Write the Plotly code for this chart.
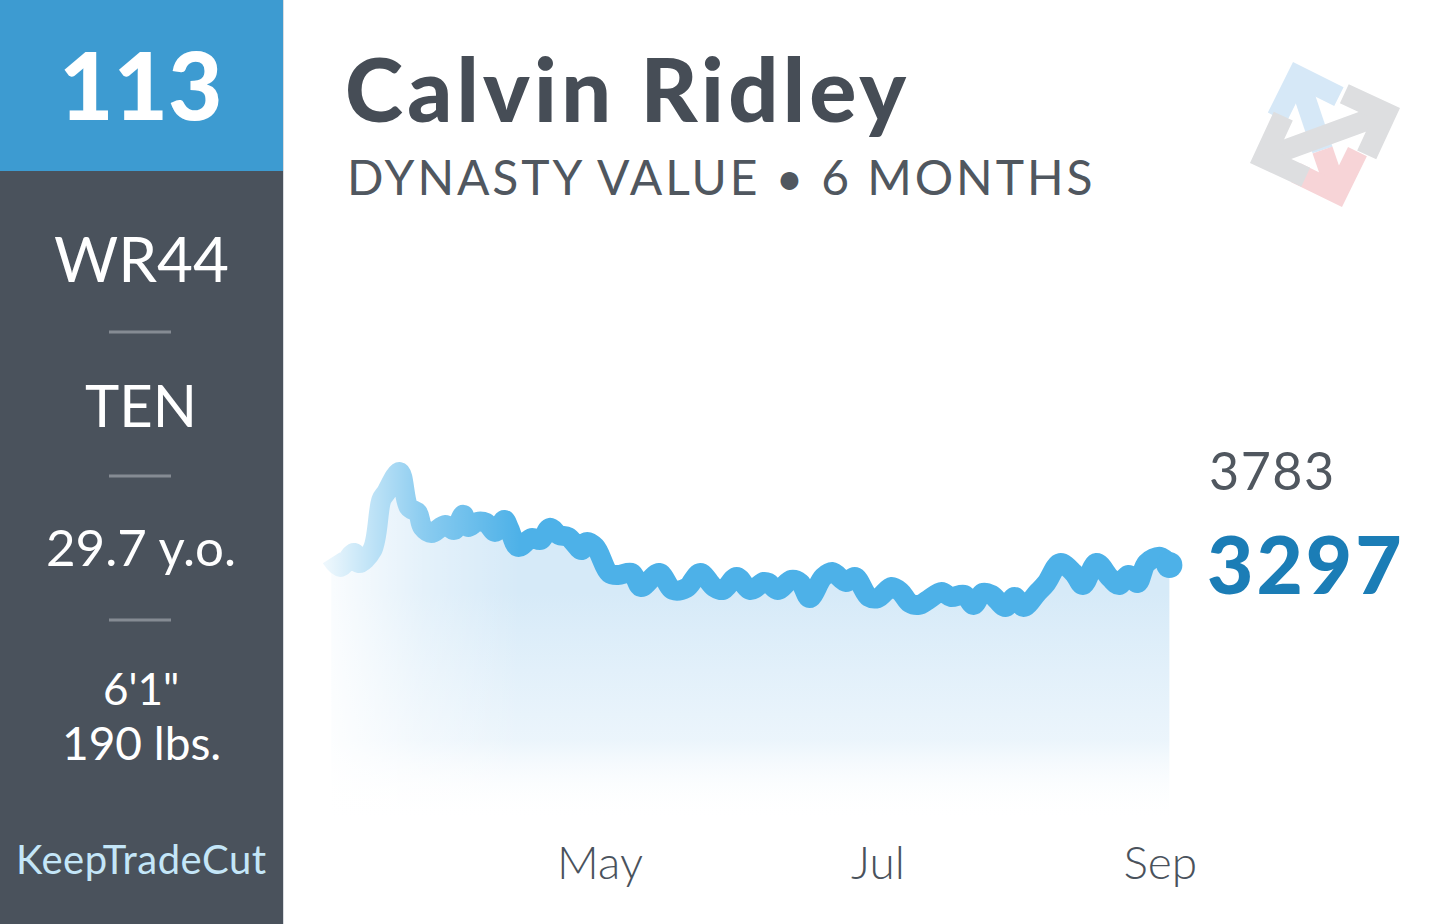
import math
import pandas as pd
import plotly.graph_objects as go

# ---------------- data ----------------
dates = ["2024-03-03","2024-03-05","2024-03-08","2024-03-09","2024-03-12","2024-03-14","2024-03-15",
         "2024-03-18","2024-03-20","2024-03-22","2024-03-23","2024-03-25","2024-03-28","2024-03-30",
         "2024-04-01","2024-04-02","2024-04-04","2024-04-06","2024-04-08","2024-04-10","2024-04-11",
         "2024-04-13","2024-04-16","2024-04-18","2024-04-20","2024-04-22","2024-04-24","2024-04-27",
         "2024-04-28","2024-04-30","2024-05-03","2024-05-05","2024-05-08","2024-05-10","2024-05-14",
         "2024-05-17","2024-05-20","2024-05-23","2024-05-26","2024-05-28","2024-05-31","2024-06-03",
         "2024-06-06","2024-06-07","2024-06-09","2024-06-12","2024-06-14","2024-06-16","2024-06-19",
         "2024-06-21","2024-06-24","2024-06-26","2024-06-29","2024-07-01","2024-07-04","2024-07-06",
         "2024-07-08","2024-07-10","2024-07-12","2024-07-15","2024-07-17","2024-07-20","2024-07-22",
         "2024-07-24","2024-07-26","2024-07-29","2024-07-31","2024-08-02","2024-08-05","2024-08-07",
         "2024-08-10","2024-08-13","2024-08-15","2024-08-18","2024-08-21","2024-08-23","2024-08-25",
         "2024-08-27","2024-08-29","2024-09-01","2024-09-03"]
values = [3334,3287,3360,3307,3375,3637,3674,3783,3600,3569,
          3496,3464,3506,3480,3559,3496,3522,3517,3470,3532,
          3491,3391,3438,3428,3491,3454,3443,3375,3417,3391,
          3255,3245,3255,3182,3255,3166,3177,3255,3182,3166,
          3234,3166,3208,3203,3166,3219,3203,3124,3234,3260,
          3208,3234,3130,3124,3182,3156,3098,3088,3114,3156,
          3130,3140,3088,3151,3140,3077,3130,3077,3151,3203,
          3307,3255,3192,3307,3229,3192,3245,3203,3307,3339,3297]
tick_dates = ["2024-05-01", "2024-07-01", "2024-09-01"]
tick_labels = ["May", "Jul", "Sep"]

overall_rank = "113"
position_rank = "WR44"
team = "TEN"
age = "29.7 y.o."
height = "6'1\""
weight = "190 lbs."
brand = "KeepTradeCut"
player = "Calvin Ridley"
subtitle = "DYNASTY VALUE • 6 MONTHS"
peak_value = max(values)
current_value = values[-1]

# ---------------- layout geometry ----------------
W, H = 1456, 924
PL, PR, PT, PB = 320, 1200, 420, 822
x_range = ["2024-02-29 12:40", "2024-09-09 17:17"]
y_range = [1953, 4055]

def px(x):
    return (x - PL) / (PR - PL)

def py(y):
    return (PB - y) / (PB - PT)

t_lo = pd.Timestamp(x_range[0])
t_hi = pd.Timestamp(x_range[1])

def pix_to_date(x):
    return t_lo + (t_hi - t_lo) * ((x - PL) / (PR - PL))

def pix_to_ms(x):
    return pix_to_date(x).value / 1e6

LINE_COLOR = "#4DB1E8"
DARK = "#4A525C"
FONT = "Lato"
HEAVY = "Lato Black, Lato"

fig = go.Figure()

# main area + line
fig.add_trace(go.Scatter(
    x=dates, y=values, mode="lines",
    line=dict(color=LINE_COLOR, width=20, shape="spline", smoothing=1.0),
    fill="tozeroy",
    fillgradient=dict(type="vertical", start=1960, stop=3150,
                      colorscale=[[0, "rgba(255,255,255,0)"], [0.35, "rgba(232,243,251,0.85)"],
                                  [1, "rgba(214,234,248,1)"]]),
    hoverinfo="skip",
))
# current value dot
fig.add_trace(go.Scatter(
    x=[dates[-1]], y=[current_value], mode="markers",
    marker=dict(color=LINE_COLOR, size=26), hoverinfo="skip",
))
# left-side white fade overlay
fig.add_trace(go.Scatter(
    x=[pix_to_date(318), pix_to_date(560)], y=[y_range[1], y_range[1]],
    mode="lines", line=dict(width=0), fill="tozeroy",
    fillgradient=dict(type="horizontal", start=pix_to_ms(326), stop=pix_to_ms(520),
                      colorscale=[[0, "rgba(255,255,255,0.9)"], [0.5, "rgba(255,255,255,0.35)"],
                                  [1, "rgba(255,255,255,0)"]]),
    hoverinfo="skip",
))

shapes = []
# left panel
shapes.append(dict(type="rect", xref="paper", yref="paper", x0=px(0), x1=px(283), y0=py(171), y1=py(924),
                   fillcolor=DARK, line=dict(width=0), layer="below"))
shapes.append(dict(type="rect", xref="paper", yref="paper", x0=px(0), x1=px(283), y0=py(0), y1=py(171),
                   fillcolor="#3D9BD1", line=dict(width=0), layer="below"))
shapes.append(dict(type="line", xref="paper", yref="paper", x0=px(283.5), x1=px(283.5), y0=py(0), y1=py(924),
                   line=dict(color="#D9DCE0", width=1)))
for sy in (332, 476, 620):
    shapes.append(dict(type="line", xref="paper", yref="paper", x0=px(109), x1=px(171), y0=py(sy), y1=py(sy),
                       line=dict(color="#858B93", width=3)))

# logo
def chevron_arrow(tip, u, L, w):
    ux, uy = u
    inset = w / 2 * math.sqrt(2)
    cx, cy = tip[0] - ux * inset, tip[1] - uy * inset
    c, s = math.cos(math.radians(45)), math.sin(math.radians(45))
    a1 = (cx - L * (ux * c - uy * s), cy - L * (ux * s + uy * c))
    a2 = (cx - L * (ux * c + uy * s), cy - L * (-ux * s + uy * c))
    return (cx, cy), a1, a2

def path_str(pts):
    return "M " + " L ".join(f"{px(x):.5f},{py(y):.5f}" for x, y in pts)

def unit(a, b):
    dx, dy = b[0] - a[0], b[1] - a[1]
    n = math.hypot(dx, dy)
    return dx / n, dy / n

LW = 21
blue_tip, pink_tip = (1293, 62), (1342, 207)
split = (1322.5, 150)
ub = unit(split, blue_tip)
up = unit(split, pink_tip)
bc, b1, b2 = chevron_arrow(blue_tip, ub, 46, LW)
pc, p1, p2 = chevron_arrow(pink_tip, up, 46, LW)
for pts, col in (([split, bc], "#D6E8F7"), ([b1, bc, b2], "#D6E8F7"),
                 ([split, pc], "#F7D4D7"), ([p1, pc, p2], "#F7D4D7")):
    shapes.append(dict(type="path", xref="paper", yref="paper", path=path_str(pts),
                       line=dict(color=col, width=LW)))
gl, gr = (1250, 163), (1400, 108)
ug = unit(gl, gr)
gc_r, r1, r2 = chevron_arrow(gr, ug, 46, LW)
gc_l, l1, l2 = chevron_arrow(gl, (-ug[0], -ug[1]), 46, LW)
for pts in ([gc_l, gc_r], [r1, gc_r, r2], [l1, gc_l, l2]):
    shapes.append(dict(type="path", xref="paper", yref="paper", path=path_str(pts),
                       line=dict(color="#DDDEE0", width=LW)))

annotations = []
def text(t, x, y, size, color, weight=400, xanchor="center", yanchor="middle", family=FONT, spacing=None):
    if spacing is not None:
        t = f'<span style="letter-spacing:{spacing}px">{t}</span>'
    annotations.append(dict(text=t, x=px(x), y=py(y), xref="paper", yref="paper", showarrow=False,
                            xanchor=xanchor, yanchor=yanchor,
                            font=dict(family=family, size=size, color=color, weight=weight)))

text(overall_rank, 141, 83, 94, "white", 900, family=HEAVY)
text(position_rank, 141, 258, 62, "white", 400)
text(team, 141, 404, 58, "white", 400)
text(age, 141, 546, 51, "white", 400)
text(height, 141, 688, 44, "white", 400)
text(weight, 141, 742, 46, "white", 400)
text(brand, 141, 859, 40, "#C4E6F8", 400, spacing=0.5)
text(player, 343, 88, 88, "#464D56", 900, xanchor="left", family=HEAVY, spacing=4.2)
text(subtitle, 345, 177, 48, "#50575F", 400, xanchor="left", spacing=2.9)
text(str(peak_value), 1207, 470, 52, "#50575F", 400, xanchor="left", spacing=1.5)
text(str(current_value), 1205, 563, 80, "#1B7DB6", 900, xanchor="left", family=HEAVY, spacing=3)

fig.update_layout(
    width=W, height=H, autosize=False,
    margin=dict(l=PL, r=W - PR, t=PT, b=H - PB, pad=0),
    paper_bgcolor="white", plot_bgcolor="rgba(0,0,0,0)",
    showlegend=False,
    xaxis=dict(type="date", range=x_range, tickvals=tick_dates, ticktext=tick_labels,
               showgrid=False, zeroline=False, showline=False, ticks="",
               ticklabelstandoff=10,
               tickfont=dict(family=FONT, size=46, color=DARK, weight=300), fixedrange=True),
    yaxis=dict(visible=False, range=y_range, fixedrange=True),
    shapes=shapes, annotations=annotations,
)

fig.write_html("out.html", config={"displayModeBar": False},
               post_script="document.body.style.margin='0px';")
